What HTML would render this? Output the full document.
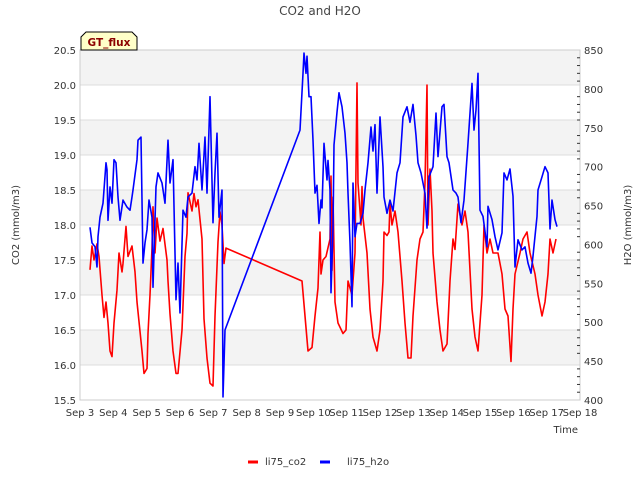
<!DOCTYPE html>
<html><head><meta charset="utf-8"><style>
body{margin:0;background:#fff;}
svg{font-family:"DejaVu Sans","Liberation Sans",sans-serif;}
</style></head><body>
<svg id="chart" width="640" height="480" viewBox="0 0 640 480" xmlns="http://www.w3.org/2000/svg">
<rect width="640" height="480" fill="#fff"/>
<text x="320" y="15" text-anchor="middle" font-size="12" fill="#444">CO2 and H2O</text>
<g id="bands"></g>
<g id="grid"></g>
<rect x="80" y="50" width="500" height="350" fill="none" stroke="#ccc"/>
<g id="leftAxis"></g>
<g id="rightAxis"></g>
<g id="xAxis"></g>
<g id="series"></g>
<text transform="translate(19,225) rotate(-90)" text-anchor="middle" font-size="10" fill="#333">CO2 (mmol/m3)</text>
<text transform="translate(631,225) rotate(-90)" text-anchor="middle" font-size="10" fill="#333">H2O (mmol/m3)</text>
<text x="578" y="433" text-anchor="end" font-size="10" fill="#333">Time</text>
<g>
<path d="M81,50 L81,37 L86,32 L132,32 L137,37 L137,50 Z" fill="#ffffc8" stroke="#000" stroke-width="1"/>
<text x="109" y="46" text-anchor="middle" font-size="10.5" font-weight="bold" fill="#8b0000">GT_flux</text>
</g>
<g>
<line x1="248" y1="462" x2="258" y2="462" stroke="#f00" stroke-width="3"/>
<text x="265" y="465" font-size="10" fill="#333">li75_co2</text>
<line x1="320" y1="462" x2="330" y2="462" stroke="#00f" stroke-width="3"/>
<text x="347" y="465" font-size="10" fill="#333">li75_h2o</text>
</g>
</svg>
<script>
const xTickLabels=["Sep 3","Sep 4","Sep 5","Sep 6","Sep 7","Sep 8","Sep 9","Sep 10","Sep 11","Sep 12","Sep 13","Sep 14","Sep 15","Sep 16","Sep 17","Sep 18"];
const xTickDays=[3,4,5,6,7,8,9,10,11,12,13,14,15,16,17,18];
const leftTicks=[15.5,16.0,16.5,17.0,17.5,18.0,18.5,19.0,19.5,20.0,20.5];
const rightTicks=[400,450,500,550,600,650,700,750,800,850];
const co2Days=[3.30,3.36,3.42,3.51,3.57,3.66,3.72,3.78,3.84,3.90,3.96,4.02,4.11,4.17,4.26,4.29,4.38,4.44,4.56,4.65,4.71,4.77,4.86,4.92,5.01,5.04,5.10,5.16,5.19,5.25,5.31,5.40,5.49,5.61,5.64,5.70,5.79,5.88,5.94,6.06,6.15,6.21,6.24,6.36,6.42,6.48,6.54,6.66,6.72,6.81,6.90,6.99,7.05,7.14,7.20,7.26,7.29,7.32,7.38,9.66,9.75,9.84,9.96,10.05,10.14,10.20,10.23,10.29,10.38,10.50,10.53,10.56,10.59,10.65,10.74,10.89,10.98,11.04,11.16,11.25,11.31,11.34,11.43,11.46,11.49,11.61,11.70,11.79,11.91,12.00,12.09,12.12,12.21,12.27,12.30,12.36,12.45,12.54,12.66,12.75,12.84,12.93,12.99,13.11,13.20,13.29,13.35,13.41,13.44,13.50,13.56,13.59,13.71,13.80,13.89,14.01,14.10,14.19,14.25,14.34,14.46,14.55,14.64,14.76,14.85,14.94,15.06,15.12,15.21,15.30,15.39,15.54,15.66,15.75,15.84,15.93,15.99,16.05,16.20,16.29,16.41,16.50,16.65,16.74,16.86,16.95,17.04,17.10,17.19,17.28];
const co2Values=[17.36,17.7,17.5,17.73,17.55,17.0,16.68,16.9,16.6,16.2,16.12,16.6,17.07,17.6,17.33,17.45,17.98,17.55,17.7,17.33,16.9,16.62,16.2,15.88,15.95,16.45,17.0,17.67,18.26,17.6,18.1,17.77,17.95,17.5,17.2,16.73,16.2,15.88,15.88,16.5,17.55,17.88,18.46,18.2,18.45,18.26,18.36,17.8,16.66,16.1,15.74,15.7,16.7,17.76,18.19,18.0,17.73,17.45,17.67,17.2,16.7,16.2,16.25,16.7,17.1,17.9,17.3,17.5,17.55,17.8,18.7,17.35,18.4,16.9,16.6,16.45,16.5,17.2,17.0,17.6,20.03,18.6,18.0,18.55,18.1,17.6,16.8,16.4,16.2,16.5,17.2,17.9,17.85,17.9,18.3,18.0,18.2,17.9,17.2,16.6,16.1,16.1,16.7,17.5,17.8,17.9,18.6,20.0,18.0,18.8,18.2,17.6,16.9,16.5,16.2,16.3,17.2,17.8,17.65,18.3,18.0,18.2,17.9,16.8,16.4,16.2,17.0,18.0,17.6,17.8,17.6,17.6,17.3,16.8,16.7,16.05,16.8,17.3,17.6,17.8,17.9,17.6,17.3,17.0,16.7,16.9,17.3,17.8,17.6,17.8];
const h2oDays=[3.30,3.36,3.45,3.51,3.54,3.60,3.69,3.78,3.81,3.84,3.90,3.96,4.02,4.08,4.14,4.20,4.29,4.41,4.50,4.56,4.59,4.71,4.74,4.83,4.89,4.95,5.01,5.07,5.16,5.19,5.28,5.34,5.46,5.55,5.64,5.70,5.79,5.88,5.94,6.00,6.09,6.18,6.24,6.36,6.45,6.51,6.57,6.66,6.75,6.81,6.90,6.99,7.05,7.11,7.17,7.26,7.29,7.35,9.60,9.69,9.72,9.78,9.81,9.87,9.93,9.99,10.05,10.11,10.17,10.23,10.26,10.32,10.41,10.44,10.50,10.53,10.59,10.62,10.71,10.77,10.86,10.95,11.01,11.04,11.10,11.16,11.19,11.25,11.31,11.40,11.49,11.55,11.64,11.73,11.79,11.85,11.91,12.00,12.09,12.12,12.21,12.30,12.39,12.51,12.60,12.69,12.81,12.90,12.99,13.08,13.14,13.23,13.35,13.41,13.47,13.59,13.68,13.74,13.86,13.92,14.01,14.07,14.19,14.28,14.34,14.43,14.52,14.64,14.76,14.82,14.88,14.94,15.00,15.09,15.21,15.24,15.36,15.45,15.54,15.66,15.72,15.81,15.90,15.99,16.05,16.14,16.26,16.35,16.44,16.53,16.59,16.71,16.74,16.86,16.95,17.04,17.10,17.16,17.25,17.31];
const h2oValues=[622,602,597,571,610,635,653,705,696,631,674,653,709,705,661,631,657,648,644,661,670,709,734,738,576,602,619,657,635,545,674,692,679,653,734,679,709,529,576,512,644,635,661,666,700,683,730,670,738,666,790,628,692,743,635,670,404,490,747,820,846,820,842,790,790,734,666,676,627,657,647,730,683,708,670,538,620,728,770,795,777,743,705,666,602,520,679,610,627,627,640,670,705,751,720,754,666,764,700,661,640,657,643,692,705,764,777,757,780,740,705,692,666,621,687,700,769,713,777,780,713,705,670,666,661,628,657,730,807,747,773,820,644,636,597,649,632,610,593,615,692,683,697,662,571,606,593,597,576,563,585,636,670,687,700,692,620,657,632,623];

const NS="http://www.w3.org/2000/svg";
const X0=80,X1=580,Y0=400,Y1=50;
const xScale=d=>X0+(d-3)/(18-3)*(X1-X0);
const yLeft=v=>Y0-(v-15.5)/(20.5-15.5)*(Y0-Y1);
const yRight=v=>Y0-(v-400)/(850-400)*(Y0-Y1);
function mk(tag,attrs,parent){const e=document.createElementNS(NS,tag);for(const k in attrs)e.setAttribute(k,attrs[k]);parent.appendChild(e);return e;}
const bands=document.getElementById('bands'),grid=document.getElementById('grid');
for(let i=0;i<leftTicks.length-1;i++){
  if((leftTicks.length-2-i)%2===0){
    const r=mk('rect',{x:X0,y:yLeft(leftTicks[i+1]),width:X1-X0,height:yLeft(leftTicks[i])-yLeft(leftTicks[i+1]),fill:'#f3f3f3'},bands);
    
    
  }
}
const la=document.getElementById('leftAxis');
leftTicks.forEach(v=>{
  const l=mk('line',{x1:X0,x2:X1,y1:yLeft(v),y2:yLeft(v),stroke:'#ddd'},grid);
  
  
  const t=mk('text',{x:X0-4,y:yLeft(v)+4,'text-anchor':'end','font-size':10,fill:'#333'},la);
  t.textContent=v.toFixed(1);
  
  
});
const ra=document.getElementById('rightAxis');
for(let v=400;v<=850;v+=10){
  const major=v%50===0;
  const l=mk('line',{x1:X1-(major?0:3),x2:X1,y1:yRight(v),y2:yRight(v),stroke:'#333'},ra);
  
  
}
rightTicks.forEach(v=>{
  const t=mk('text',{x:X1+4,y:yRight(v)+4,'font-size':10,fill:'#333'},ra);
  t.textContent=v;
  
  
});
const xa=document.getElementById('xAxis');
xTickDays.forEach((d,i)=>{
  const t=mk('text',{x:xScale(d),y:416,'text-anchor':'middle','font-size':10,fill:'#333'},xa);
  t.textContent=xTickLabels[i];
  
  
});
const sg=document.getElementById('series');
const pc=co2Days.map((d,i)=>xScale(d).toFixed(1)+','+yLeft(co2Values[i]).toFixed(1)).join(' ');
const lc=mk('polyline',{points:pc,fill:'none',stroke:'#f00','stroke-width':1.6,'stroke-linejoin':'round'},sg);


const ph=h2oDays.map((d,i)=>xScale(d).toFixed(1)+','+yRight(h2oValues[i]).toFixed(1)).join(' ');
const lh=mk('polyline',{points:ph,fill:'none',stroke:'#00f','stroke-width':1.6,'stroke-linejoin':'round'},sg);


</script>
</body></html>
